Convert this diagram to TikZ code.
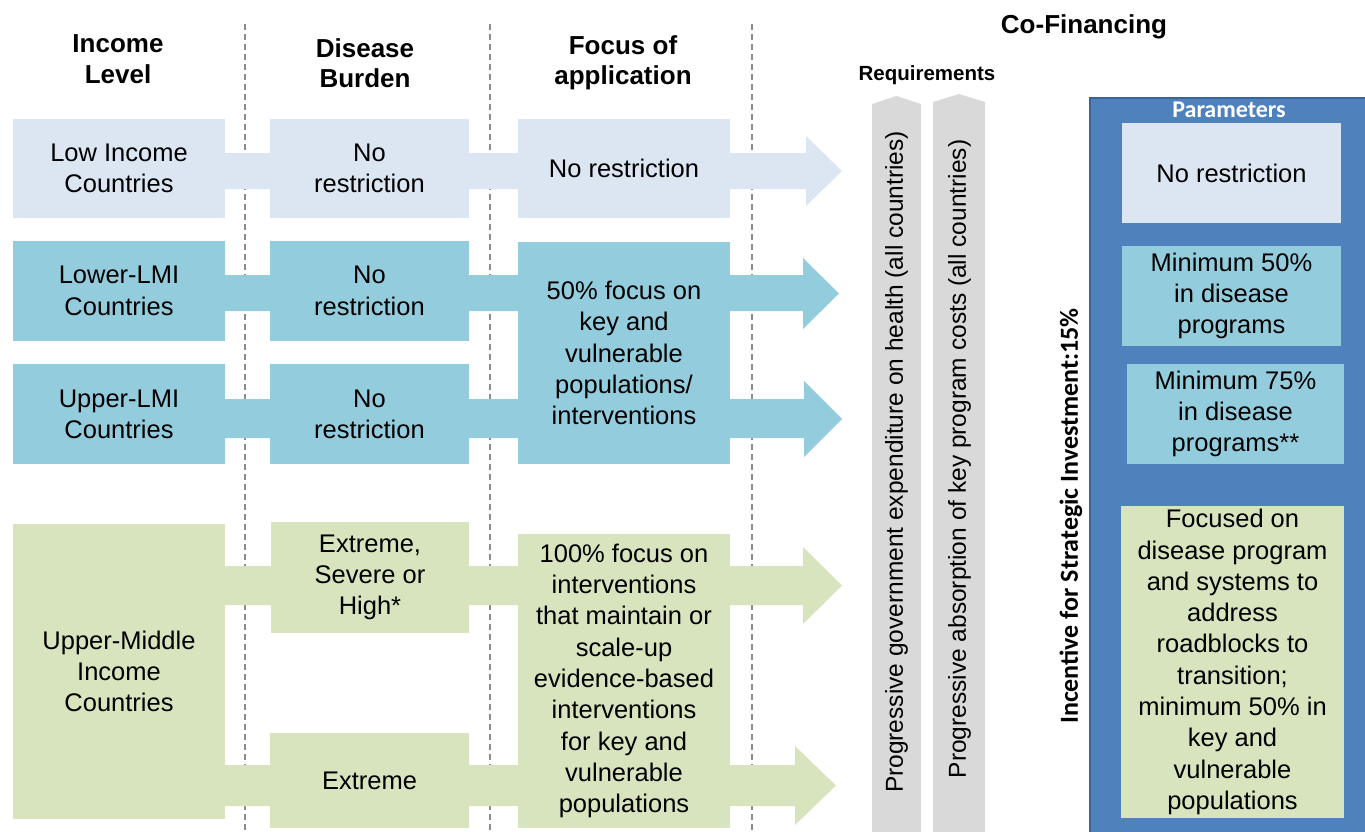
\documentclass[tikz,border=0pt]{standalone}
\usepackage{fontspec}
\setmainfont{Liberation Sans}
\newfontfamily\calib{Carlito}
\usetikzlibrary{calc}
\definecolor{cLight}{HTML}{DCE6F2}
\definecolor{cBlue}{HTML}{93CDDD}
\definecolor{cGreen}{HTML}{D7E4BD}
\definecolor{cGrey}{HTML}{D9D9D9}
\definecolor{cPanel}{HTML}{4F81BD}
\definecolor{cPanelEdge}{HTML}{3B6497}
\definecolor{cDash}{HTML}{8C8C8C}
\pgfdeclarelayer{bg}
\pgfsetlayers{bg,main}
\begin{document}
\begin{tikzpicture}[x=1pt,y=-1pt,
  box/.style={draw=none, inner sep=0pt, align=center, anchor=center,
    font=\fontsize{25.5}{31.3}\selectfont},
  head/.style={inner sep=0pt, align=center, font=\bfseries\fontsize{26}{30.5}\selectfont},
  sepline/.style={draw=cDash, line width=1.2pt, dash pattern=on 6pt off 4pt},
  bartext/.style={rotate=90, inner sep=0pt, font=\fontsize{24.5}{29}\selectfont},
  barshape/.style={fill=cGrey},
]
\useasboundingbox (0,0) rectangle (1365,832);

% headers
\node[head] (hInc) at (118,59) {Income\\Level};
\node[head] (hDis) at (365,63) {Disease\\Burden};
\node[head] (hFoc) at (623,63) {Focus of\\application};
\node[head] (hCo) at (1084,27) {Co-Financing};
\node[inner sep=0pt, font=\bfseries\fontsize{20.5}{24}\selectfont] (hReq) at (927,75) {Requirements};

% row 1
\node[box, fill=cLight, minimum width=212, minimum height=99] (inc1) at (119,168.5) {Low Income\\Countries};
\node[box, fill=cLight, minimum width=199, minimum height=99] (dis1) at (369.5,168.5) {No\\restriction};
\node[box, fill=cLight, minimum width=212, minimum height=99] (foc1) at (624,168.5) {No restriction};
% row 2
\node[box, fill=cBlue, minimum width=212, minimum height=100] (inc2) at (119,291) {Lower-LMI\\Countries};
\node[box, fill=cBlue, minimum width=199, minimum height=100] (dis2) at (369.5,291) {No\\restriction};
% row 3
\node[box, fill=cBlue, minimum width=212, minimum height=100] (inc3) at (119,414) {Upper-LMI\\Countries};
\node[box, fill=cBlue, minimum width=199, minimum height=100] (dis3) at (369.5,414) {No\\restriction};
\node[box, fill=cBlue, minimum width=212, minimum height=222] (foc23) at (624,353) {50\% focus on\\key and\\vulnerable\\populations/\\interventions};
% rows 4-5
\node[box, fill=cGreen, minimum width=212, minimum height=295] (umi) at (119,671.5) {Upper-Middle\\Income\\Countries};
\node[box, fill=cGreen, minimum width=198, minimum height=111] (dis4) at (370,577.5) {Extreme,\\Severe or\\High*};
\node[box, fill=cGreen, minimum width=199, minimum height=95] (dis5) at (369.5,780.5) {Extreme};
\node[box, fill=cGreen, minimum width=212, minimum height=294] (foc45) at (624,681) {100\% focus on\\interventions\\that maintain or\\scale-up\\evidence-based\\interventions\\for key and\\vulnerable\\populations};

% requirement bars
\fill[barshape] (872,832) -- (872,104) -- (896.5,96) -- (921,104) -- (921,832) -- cycle;
\fill[barshape] (933,832) -- (933,102) -- (959,94) -- (985,102) -- (985,832) -- cycle;
\node[bartext] (req1) at (896.5,462) {Progressive government expenditure on health (all countries)};
\node[bartext] (req2) at (959.5,459) {Progressive absorption of key program costs (all countries)};

% parameters panel
\draw[fill=cPanel, draw=cPanelEdge, line width=2pt] (1090,98) rectangle (1370,840);
\node[inner sep=0pt, text=white, font=\calib\bfseries\fontsize{24}{28}\selectfont] (hPar) at (1229,110) {Parameters};
\node[box, fill=cLight, minimum width=219, minimum height=100] (pnr) at (1231.5,173) {No restriction};
\node[box, fill=cBlue, minimum width=219, minimum height=100] (p50) at (1231.5,296) {Minimum 50\%\\in disease\\programs};
\node[box, fill=cBlue, minimum width=217, minimum height=100] (p75) at (1235.5,414) {Minimum 75\%\\in disease\\programs**};
\node[box, fill=cGreen, minimum width=223, minimum height=312] (pgr) at (1232.5,662) {Focused on\\disease program\\and systems to\\address\\roadblocks to\\transition;\\minimum 50\% in\\key and\\vulnerable\\populations};
\node[rotate=90, inner sep=0pt, font=\calib\bfseries\fontsize{26}{30}\selectfont] (incent) at (1071,516) {Incentive for Strategic Investment:15\%};

% background: separators and arrows
\begin{pgfonlayer}{bg}
  \draw[sepline] (245,24) -- (245,832);
  \draw[sepline] (490,24) -- (490,832);
  \draw[sepline] (752,24) -- (752,832);
  \fill[cLight] (inc1.east |- 0,153) -- (806,153) -- (806,136) -- (842,171) -- (806,206) -- (806,189) -- (inc1.east |- 0,189) -- cycle;
  \fill[cBlue] (inc2.east |- 0,275) -- (803,275) -- (803,258) -- (839,293.5) -- (803,329) -- (803,311) -- (inc2.east |- 0,311) -- cycle;
  \fill[cBlue] (inc3.east |- 0,399) -- (804,399) -- (804,381) -- (842,419) -- (804,457) -- (804,438) -- (inc3.east |- 0,438) -- cycle;
  \fill[cGreen] (umi.east |- 0,566) -- (803,566) -- (803,547) -- (842,585.5) -- (803,624) -- (803,605) -- (umi.east |- 0,605) -- cycle;
  \fill[cGreen] (umi.east |- 0,765) -- (795,765) -- (795,746) -- (836,785.5) -- (795,825) -- (795,806) -- (umi.east |- 0,806) -- cycle;
\end{pgfonlayer}
\end{tikzpicture}
\end{document}
